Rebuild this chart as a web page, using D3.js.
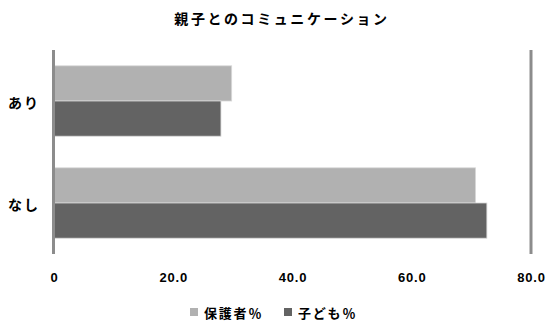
<!DOCTYPE html>
<html>
<head>
<meta charset="utf-8">
<script src="https://cdn.jsdelivr.net/npm/d3@7"></script>
<style>
  html, body { margin: 0; padding: 0; background: #fff; }
  svg { display: block; font-family: "Noto Sans CJK JP", "Noto Sans", sans-serif; }
</style>
</head>
<body>
<svg id="chart" width="551" height="327"></svg>
<script>
// Chart data
const title = "親子とのコミュニケーション";
const categories = ["あり", "なし"];
const seriesNames = ["保護者％", "子ども％"];
const guardianValues = [29.8, 70.7];
const childValues = [28.0, 72.6];
const tickValues = [0, 20, 40, 60, 80];
const tickLabels = ["0", "20.0", "40.0", "60.0", "80.0"];

const colors = ["#b1b1b1", "#636363"];

const svg = d3.select("#chart");
const margin = { left: 54, top: 50 };

const x = d3.scaleLinear().domain([0, 80]).range([margin.left, 531]);
const y = d3.scaleBand().domain(categories).range([margin.top, 254]).paddingInner(0.31).paddingOuter(0.155);
const ySub = d3.scaleBand().domain(seriesNames).range([0, y.bandwidth()]);

const rows = categories.map((c, i) => ({
  category: c,
  values: [
    { name: seriesNames[0], value: guardianValues[i], color: colors[0] },
    { name: seriesNames[1], value: childValues[i], color: colors[1] }
  ]
}));

// Right boundary line at the axis maximum
svg.append("line")
  .attr("x1", x(80)).attr("x2", x(80))
  .attr("y1", margin.top).attr("y2", 254)
  .attr("stroke", "#8c8c8c").attr("stroke-width", 3);

// Bars
const groups = svg.selectAll("g.row").data(rows).enter().append("g")
  .attr("class", "row")
  .attr("transform", d => `translate(0,${y(d.category)})`);

groups.selectAll("rect").data(d => d.values).enter().append("rect")
  .attr("x", x(0))
  .attr("y", d => ySub(d.name))
  .attr("width", d => x(d.value) - x(0))
  .attr("height", ySub.bandwidth())
  .attr("fill", d => d.color)
  .attr("stroke", "#d8d8d8")
  .attr("stroke-width", 0.8);

// Category axis line
svg.append("line")
  .attr("x1", x(0) - 0.5).attr("x2", x(0) - 0.5)
  .attr("y1", margin.top).attr("y2", 254)
  .attr("stroke", "#8c8c8c").attr("stroke-width", 3);

// Category labels
svg.selectAll("text.cat").data(categories).enter().append("text")
  .attr("class", "cat")
  .attr("x", 8)
  .attr("y", d => y(d) + y.bandwidth() / 2 + 1)
  .attr("dominant-baseline", "central")
  .attr("font-size", 14).attr("font-weight", "bold")
  .attr("letter-spacing", 2)
  .text(d => d);

// Value axis tick labels
const xAxis = d3.axisBottom(x).tickValues(tickValues)
  .tickFormat((d, i) => tickLabels[i]).tickSize(0).tickPadding(0);
const axisG = svg.append("g").attr("transform", "translate(0,273)").call(xAxis);
axisG.select(".domain").remove();
axisG.selectAll("text")
  .attr("font-family", "'Liberation Sans', sans-serif")
  .attr("font-size", 13).attr("font-weight", "bold").attr("fill", "#000")
  .attr("letter-spacing", 0.8);

// Title
svg.append("text")
  .attr("x", 282).attr("y", 18)
  .attr("text-anchor", "middle").attr("dominant-baseline", "central")
  .attr("font-size", 14).attr("font-weight", "bold")
  .attr("letter-spacing", 2.6)
  .text(title);

// Legend
const legendItems = [
  { name: seriesNames[0], color: colors[0], x: 190 },
  { name: seriesNames[1], color: colors[1], x: 284 }
];
const leg = svg.selectAll("g.legend").data(legendItems).enter().append("g")
  .attr("class", "legend")
  .attr("transform", d => `translate(${d.x},312)`);
leg.append("rect").attr("x", 0).attr("y", -4).attr("width", 8).attr("height", 8)
  .attr("fill", d => d.color);
leg.append("text").attr("x", 14).attr("y", 0)
  .attr("dominant-baseline", "central")
  .attr("font-size", 13).attr("font-weight", "bold")
  .attr("letter-spacing", 1.8)
  .text(d => d.name);
</script>
</body>
</html>
